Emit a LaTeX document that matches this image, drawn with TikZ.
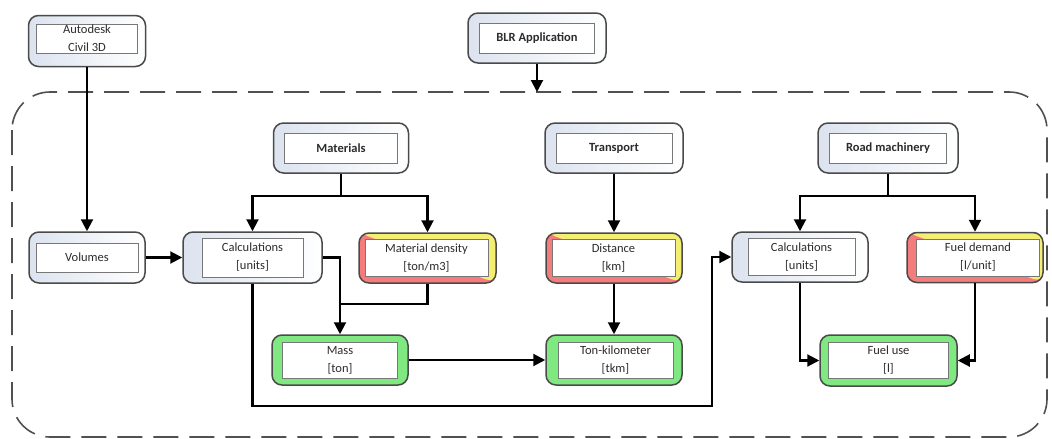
\documentclass[tikz,border=0pt]{standalone}
\usepackage{fontspec}
\setmainfont{Carlito}
\usetikzlibrary{arrows.meta,calc}

\definecolor{edgegray}{HTML}{4A4A4A}
\definecolor{innergray}{HTML}{777777}
\definecolor{textgray}{HTML}{2C2C2C}
\definecolor{bluegray}{HTML}{DCE3EF}
\definecolor{warnred}{HTML}{F47C7C}
\definecolor{warnyellow}{HTML}{F4EE72}
\definecolor{goodgreen}{HTML}{80E880}
\definecolor{dashgray}{HTML}{505050}

% outer rounded frame + inner labelled rectangle
\newcommand\flowbox[9]{%
  \node[outerbox,#1,minimum width=#4,minimum height=#5] (#2) at (#3) {};
  \node[innerbox,minimum width=#6,minimum height=#7,#8] (#2-in) at (#2) {#9};
}

\tikzset{
  outerbox/.style={rectangle, rounded corners=10pt, draw=edgegray, line width=1.5pt, inner sep=0pt},
  innerbox/.style={rectangle, draw=innergray, line width=0.8pt, fill=white, inner sep=1pt,
    align=center, text=textgray, font=\fontsize{12.5}{18}\selectfont},
  plainfill/.style={left color=bluegray, right color=white},
  warnfill/.style={fill=warnred, path picture={
      \fill[warnyellow] (path picture bounding box.north west) -- (path picture bounding box.north east)
        -- (path picture bounding box.south east) -- cycle;}},
  resultfill/.style={fill=goodgreen},
  link/.style={draw=black, line width=2.1pt},
  flow/.style={link, -{Triangle[length=12pt,width=12pt]}},
}

\begin{document}
\begin{tikzpicture}[x=1pt,y=-1pt]
\useasboundingbox (0,0) rectangle (1052,439);

% application scope
\draw[draw=dashgray, line width=1.6pt, dash pattern=on 25pt off 11pt, rounded corners=38pt]
  (12,92) rectangle (1047,437);

% boxes
\flowbox{plainfill}{c3d}{87,41}{117pt}{51pt}{101pt}{29pt}{yshift=2.5pt}{Autodesk\\Civil 3D}
\flowbox{plainfill}{blr}{537,38}{138pt}{50pt}{115pt}{30pt}{}{\textbf{BLR Application}}
\flowbox{plainfill}{mat}{341,148}{135pt}{50pt}{113pt}{30pt}{}{\textbf{Materials}}
\flowbox{plainfill}{trans}{614,148}{138pt}{50pt}{116pt}{30pt}{}{\textbf{Transport}}
\flowbox{plainfill}{road}{888,148}{140pt}{50pt}{117pt}{30pt}{}{\textbf{Road machinery}}
\flowbox{plainfill}{vol}{87,257.5}{116pt}{51pt}{102pt}{29pt}{}{Volumes}
\flowbox{plainfill}{calcA}{252.5,257.5}{139pt}{51pt}{101pt}{39pt}{}{Calculations\\{[}units{]}}
\flowbox{warnfill}{dens}{427.5,258}{137pt}{50pt}{123pt}{37pt}{xshift=-1pt}{Material density\\{[}ton/m3{]}}
\flowbox{warnfill}{dist}{614,258}{136pt}{50pt}{123pt}{37pt}{xshift=-0.5pt}{Distance\\{[}km{]}}
\flowbox{plainfill}{calcB}{800,257}{136pt}{50pt}{107pt}{37pt}{xshift=1.5pt}{Calculations\\{[}units{]}}
\flowbox{warnfill}{fdem}{975,257.5}{136pt}{50pt}{123pt}{37pt}{xshift=3pt}{Fuel demand\\{[}l/unit{]}}
\flowbox{resultfill}{mass}{340,360}{136pt}{50pt}{115pt}{36pt}{}{Mass\\{[}ton{]}}
\flowbox{resultfill}{ton}{614,360}{136pt}{50pt}{115pt}{36pt}{xshift=1.5pt}{Ton-kilometer\\{[}tkm{]}}
\flowbox{resultfill}{fuel}{888.5,360.5}{137pt}{51pt}{120pt}{36pt}{}{Fuel use\\{[}l{]}}

% routing points
\coordinate (scopetop) at (537,92);
\coordinate (matfork) at (341,196);
\coordinate (roadfork) at (888,196);
\coordinate (densjoin) at (340,304);
\coordinate (lowbend) at (712,406);

% connectors
\draw[flow] (c3d) -- (vol);
\draw[flow] (blr) -- (scopetop);
\draw[flow] (vol) -- (calcA);

\draw[link] (mat) -- (matfork);
\draw[flow] (matfork) -| (calcA.north);
\draw[flow] (matfork) -| (dens.north);

\draw[flow] (calcA.east) -| (mass.north);
\draw[link] (dens.south) |- (densjoin);

\draw[flow] (calcA.south) |- (lowbend) |- (calcB.west);

\draw[flow] (mass) -- (ton);
\draw[flow] (trans) -- (dist);
\draw[flow] (dist) -- (ton);

\draw[link] (road) -- (roadfork);
\draw[flow] (roadfork) -| (calcB.north);
\draw[flow] (roadfork) -| (fdem.north);

\draw[flow] (calcB.south) |- (fuel.west);
\draw[flow] (fdem.south) |- (fuel.east);
\end{tikzpicture}
\end{document}
